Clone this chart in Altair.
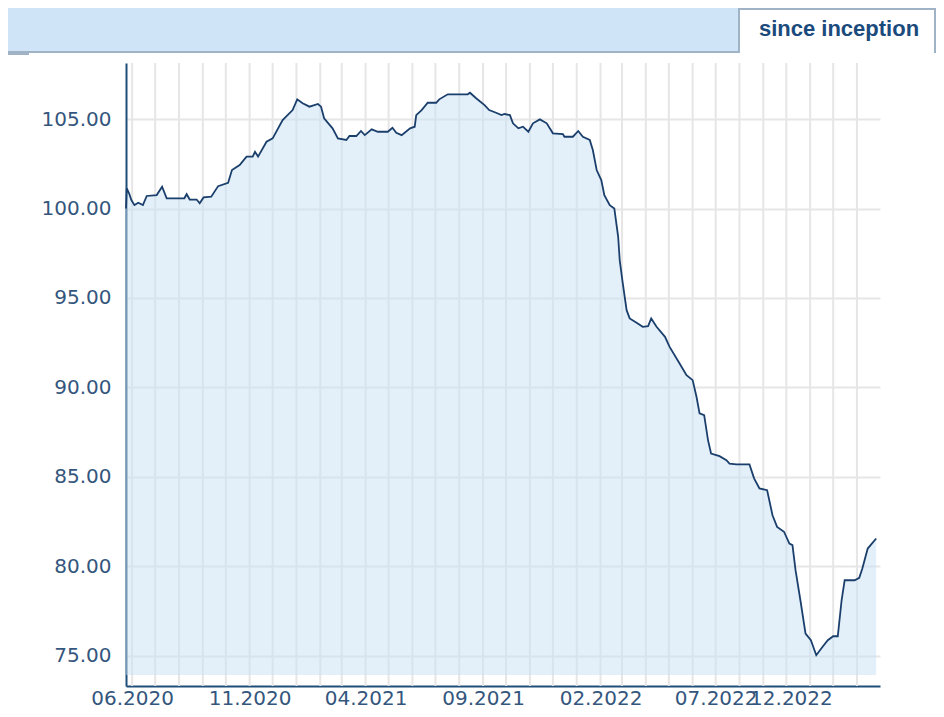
import altair as alt
import pandas as pd

# ---------------- data ----------------
DATES = [
    "2020-05-24", "2020-05-25", "2020-05-28", "2020-05-31", "2020-06-04", "2020-06-09",
    "2020-06-15", "2020-06-20", "2020-07-03", "2020-07-10", "2020-07-16", "2020-08-08",
    "2020-08-11", "2020-08-15", "2020-08-24", "2020-08-28", "2020-09-02", "2020-09-12",
    "2020-09-21", "2020-10-04", "2020-10-09", "2020-10-19", "2020-10-28", "2020-11-05",
    "2020-11-08", "2020-11-12", "2020-11-23", "2020-12-01", "2020-12-14", "2020-12-27",
    "2021-01-02", "2021-01-09", "2021-01-18", "2021-01-29", "2021-02-02", "2021-02-06",
    "2021-02-17", "2021-02-24", "2021-03-07", "2021-03-11", "2021-03-20", "2021-03-26",
    "2021-03-31", "2021-04-09", "2021-04-17", "2021-04-30", "2021-05-06", "2021-05-11",
    "2021-05-18", "2021-05-29", "2021-06-04", "2021-06-06", "2021-06-13", "2021-06-21",
    "2021-07-02", "2021-07-06", "2021-07-17", "2021-08-12", "2021-08-15", "2021-08-23",
    "2021-09-03", "2021-09-09", "2021-09-18", "2021-09-25", "2021-09-29", "2021-10-06",
    "2021-10-10", "2021-10-17", "2021-10-23", "2021-10-30", "2021-11-05", "2021-11-14",
    "2021-11-23", "2021-12-01", "2021-12-14", "2021-12-16", "2021-12-27", "2022-01-03",
    "2022-01-09", "2022-01-18", "2022-01-22", "2022-01-27", "2022-02-02", "2022-02-06",
    "2022-02-13", "2022-02-19", "2022-02-24", "2022-02-26", "2022-03-02", "2022-03-07",
    "2022-03-11", "2022-03-20", "2022-03-28", "2022-04-04", "2022-04-08", "2022-04-15",
    "2022-04-26", "2022-05-02", "2022-05-15", "2022-05-24", "2022-06-01", "2022-06-06",
    "2022-06-10", "2022-06-16", "2022-06-21", "2022-06-25", "2022-07-06", "2022-07-15",
    "2022-07-19", "2022-07-28", "2022-08-14", "2022-08-20", "2022-08-27", "2022-09-06",
    "2022-09-13", "2022-09-19", "2022-09-28", "2022-10-05", "2022-10-09", "2022-10-13",
    "2022-10-20", "2022-10-26", "2022-11-02", "2022-11-09", "2022-11-17", "2022-11-24",
    "2022-12-01", "2022-12-07", "2022-12-12", "2022-12-16", "2022-12-29", "2023-01-04",
    "2023-01-08", "2023-01-15", "2023-01-26",
]
VALUES = [
    100.00, 101.13, 100.85, 100.47, 100.19, 100.32,
    100.19, 100.70, 100.75, 101.22, 100.57, 100.57,
    100.80, 100.50, 100.50, 100.29, 100.62, 100.66,
    101.25, 101.44, 102.15, 102.43, 102.90, 102.90,
    103.17, 102.90, 103.73, 103.92, 104.94, 105.50,
    106.10, 105.88, 105.69, 105.84, 105.69, 105.04,
    104.48, 103.92, 103.83, 104.05, 104.05, 104.33,
    104.10, 104.42, 104.29, 104.29, 104.51, 104.23,
    104.10, 104.48, 104.57, 105.22, 105.50, 105.91,
    105.91, 106.10, 106.38, 106.38, 106.47, 106.16,
    105.78, 105.50, 105.35, 105.22, 105.28, 105.22,
    104.76, 104.48, 104.57, 104.29, 104.76, 104.98,
    104.76, 104.20, 104.16, 104.01, 104.01, 104.33,
    104.01, 103.83, 103.27, 102.15, 101.59, 100.75,
    100.19, 100.00, 98.42, 97.12, 95.82, 94.32,
    93.86, 93.61, 93.39, 93.43, 93.86, 93.39,
    92.83, 92.27, 91.34, 90.69, 90.41, 89.48,
    88.55, 88.45, 87.06, 86.31, 86.16, 85.94,
    85.75, 85.70, 85.70, 84.92, 84.36, 84.26,
    82.86, 82.21, 81.94, 81.28, 81.19, 79.79,
    77.93, 76.25, 75.88, 75.04, 75.50, 75.88,
    76.10, 76.10, 78.11, 79.23, 79.23, 79.36,
    79.89, 81.00, 81.56,
]

Y_TICKS = [75, 80, 85, 90, 95, 100, 105]
Y_DOMAIN = [73.32, 108.13]
AREA_BASE = 73.94
X_DOMAIN = ["2020-05-24", "2023-01-31"]
X_TICK_DATES = ["2020-06-01", "2020-11-01", "2021-04-01", "2021-09-01",
                "2022-02-01", "2022-07-01", "2022-10-07"]
X_TICK_LABELS = ["06.2020", "11.2020", "04.2021", "09.2021",
                 "02.2022", "07.2022", "12.2022"]
GRID_MONTHS = [d.strftime("%Y-%m-%d") for d in pd.date_range("2020-06-01", "2023-01-01", freq="MS")]
TAB_TEXT = ["since inception"]

# ---------------- styling ----------------
W, H = 754, 623
PAD = {"left": 118, "top": 55, "right": 56, "bottom": 23}
FONT = "DejaVu Sans"
AXIS_BLUE = "#1f4e79"
LABEL_COLOR = "#34567d"
GRID = "#e6e6e6"
BORDER = "#9fb2c6"


def ms(d):
    return int(pd.Timestamp(d, tz="UTC").value // 10**6)


df = pd.DataFrame({"date": DATES, "value": VALUES})

xscale = alt.Scale(type="utc", domain=[ms(d) for d in X_DOMAIN], nice=False)
yscale = alt.Scale(domain=Y_DOMAIN, nice=False, zero=False)

label_expr = "''"
for d, lab in reversed(list(zip(X_TICK_DATES, X_TICK_LABELS))):
    label_expr = f"(abs(datum.value - {ms(d)}) < 43200000 ? '{lab}' : {label_expr})"

xaxis = alt.Axis(values=[ms(d) for d in X_TICK_DATES], labelExpr=label_expr, grid=False,
                 ticks=False, tickSize=0, domainColor=AXIS_BLUE, domainWidth=2,
                 labelFont=FONT, labelFontSize=20, labelColor=LABEL_COLOR, labelPadding=2.5,
                 labelOverlap=False, labelFlush=False, title=None)
yaxis = alt.Axis(values=Y_TICKS, format=".2f", grid=True, gridColor=GRID, gridWidth=2,
                 ticks=False, tickSize=0, domainColor=AXIS_BLUE, domainWidth=2,
                 labelFont=FONT, labelFontSize=20, labelColor=LABEL_COLOR, labelPadding=15,
                 title=None)

one = pd.DataFrame({"label": TAB_TEXT})

vgrid = alt.Chart(pd.DataFrame({"date": GRID_MONTHS})).mark_rule(
    color=GRID, strokeWidth=2
).encode(x=alt.X("date:T", scale=xscale, axis=xaxis), y=alt.value(0), y2=alt.value(H))

area = alt.Chart(df).mark_area(color="#c8e0f4", opacity=0.5).encode(
    x=alt.X("date:T", scale=xscale, axis=xaxis),
    y=alt.Y("value:Q", scale=yscale, axis=yaxis),
    y2=alt.datum(AREA_BASE),
)

line = alt.Chart(df).mark_line(color="#1b3f6c", strokeWidth=1.8).encode(
    x=alt.X("date:T", scale=xscale, axis=xaxis),
    y=alt.Y("value:Q", scale=yscale, axis=yaxis),
)


def box(x1, x2, y1, y2, color):
    return alt.Chart(one).mark_rect(color=color).encode(
        x=alt.value(x1), x2=alt.value(x2), y=alt.value(y1), y2=alt.value(y2)
    )


header = [
    box(-118, 612, -55, -11, "#cfe4f7"),
    box(-118, 612, -12, -10, BORDER),
    box(-118, -97, -10, -8, BORDER),
    box(612, 810, -55, -10, "white"),
    box(612, 614, -55, -10, BORDER),
    box(612, 810, -55, -53, BORDER),
    box(808, 810, -55, -10, BORDER),
]

tab_text = alt.Chart(one).mark_text(
    font="Liberation Sans", fontWeight="bold", fontSize=22, color="#1b4a7c",
    align="center", baseline="middle"
).encode(x=alt.value(713), y=alt.value(-34), text="label:N")

chart = alt.layer(vgrid, area, line, *header, tab_text).properties(
    width=W, height=H, padding=PAD, background="white",
    autosize=alt.AutoSizeParams(type="none"),
).configure_view(stroke=None)

chart.save("out.html", embed_options={"renderer": "svg", "actions": False})
